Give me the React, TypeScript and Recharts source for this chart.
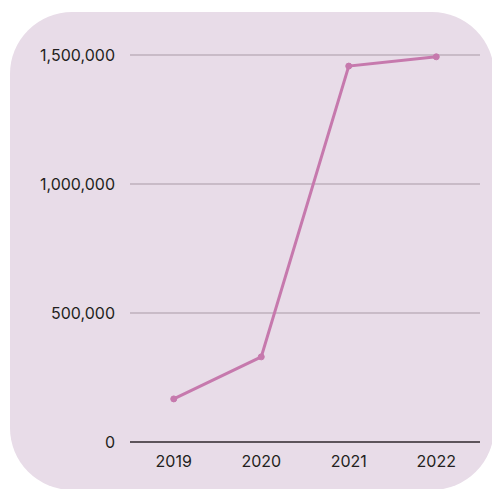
import { CartesianGrid, Line, LineChart, XAxis, YAxis } from "recharts";

// values
const YEARS = ["2019", "2020", "2021", "2022"];
const TOTALS = [167000, 330000, 1457000, 1493000];
const Y_TICKS = [0, 500000, 1000000, 1500000];

const LINE_COLOUR = "#c679ad";
const GRID_COLOUR = "#a99aa6";
const AXIS_COLOUR = "#5d545b";
const TEXT_COLOUR = "#231f20";

const data = YEARS.map((year, i) => ({ year, total: TOTALS[i] }));

export default function App() {
  return (
    <div
      style={{
        position: "absolute",
        left: 0,
        top: 0,
        width: 492,
        height: 489,
        overflow: "hidden",
        background: "#ffffff",
        fontFamily: "Inter, sans-serif",
      }}
    >
      <div
        style={{
          position: "absolute",
          left: 10,
          top: 12,
          width: 484,
          height: 478,
          borderRadius: 62,
          background: "#e8dce8",
        }}
      />
      <div style={{ position: "absolute", left: 0, top: 0 }}>
        <LineChart
          width={492}
          height={489}
          data={data}
          margin={{ top: 55, right: 12, bottom: 12, left: 0 }}
        >
          <CartesianGrid vertical={false} stroke={GRID_COLOUR} strokeWidth={1} />
          <XAxis
            dataKey="year"
            scale="band"
            axisLine={{ stroke: AXIS_COLOUR, strokeWidth: 2 }}
            tickLine={false}
            tickMargin={8}
            height={35}
            tick={{ fill: TEXT_COLOUR, fontSize: 16 }}
          />
          <YAxis
            width={130}
            domain={[0, 1500000]}
            ticks={Y_TICKS}
            axisLine={false}
            tickLine={false}
            tickMargin={9}
            tick={{ fill: TEXT_COLOUR, fontSize: 16 }}
            tickFormatter={(v: number) => v.toLocaleString("en-US")}
          />
          <Line
            type="linear"
            dataKey="total"
            stroke={LINE_COLOUR}
            strokeWidth={3}
            dot={{ r: 3, fill: LINE_COLOUR, stroke: LINE_COLOUR, strokeWidth: 1 }}
            isAnimationActive={false}
          />
        </LineChart>
      </div>
    </div>
  );
}
